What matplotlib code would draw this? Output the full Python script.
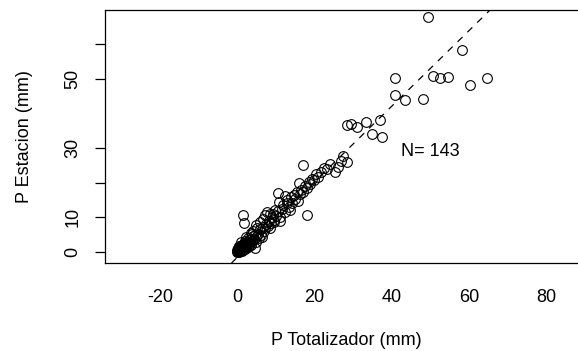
import matplotlib
matplotlib.use("Agg")
import matplotlib.pyplot as plt
from matplotlib.ticker import FixedLocator

plt.rcParams['font.family'] = ['Liberation Sans', 'DejaVu Sans']

# P Totalizador (mm) vs P Estacion (mm)
p_tot = [0.2, 0.5, 0.8, 1.0, 1.2, 0.3, 1.5, 1.8, 2.0, 2.2,
         0.6, 1.1, 1.4, 2.5, 2.8, 3.0, 0.1, 0.4, 0.9, 1.7,
         2.4, 3.2, 3.5, 0.7, 1.3, 1.9, 2.6, 3.8, 4.0, 2.1,
         0.0, 1.6, 2.9, 3.3, 4.3, 4.6, 5.0, 0.5, 1.0, 2.3,
         4.7, 1.6, 1.8, 0.2, 0.6, 1.2, 2.7, 3.6, 0.9, 1.4,
         0.3, 2.0, 3.0, 3.9,
         5.5, 6.0, 6.2, 6.8, 7.0, 7.5, 8.0, 8.2, 8.8, 9.0,
         9.5, 5.2, 5.8, 6.5, 7.2, 7.8, 8.5, 9.3, 9.8, 4.2,
         3.6, 5.0, 5.9, 6.6, 7.3, 8.6, 9.6, 4.8,
         10.0, 10.5, 11.0, 10.6, 11.5, 12.0, 12.3, 12.8, 13.0, 13.5,
         14.0, 14.2, 14.8, 15.0, 15.5, 15.8, 16.2, 16.5, 17.0, 17.5,
         18.0, 18.1, 18.5, 19.0, 19.5, 10.8, 12.5, 11.2, 13.8, 16.0,
         20.0, 20.5, 21.0, 21.8, 22.5, 23.3, 24.0, 25.4, 26.0, 26.8,
         28.5, 17.1, 27.5,
         28.5, 29.5, 31.1, 33.5, 35.0, 37.0, 37.5, 40.9, 40.9, 43.5,
         48.2, 49.4, 50.7, 52.6, 54.6, 58.3, 60.3, 64.7]
p_est = [0.3, 0.4, 0.6, 1.2, 0.8, 0.9, 1.4, 1.5, 2.3, 1.7,
         0.2, 0.5, 2.0, 2.6, 2.2, 3.4, 0.1, 0.0, 1.6, 2.6,
         1.2, 2.8, 3.8, 1.0, 1.1, 2.0, 3.0, 3.3, 4.5, 0.9,
         0.5, 0.7, 3.9, 2.4, 3.7, 5.0, 4.4, 1.8, 2.8, 4.2,
         1.2, 10.6, 8.4, 0.0, 0.7, 1.9, 1.5, 2.0, 0.3, 0.2,
         1.3, 3.1, 1.8, 5.2,
         5.2, 6.5, 5.0, 7.2, 6.1, 8.0, 7.4, 9.0, 8.3, 10.1,
         9.2, 6.8, 3.9, 4.3, 10.8, 11.5, 10.9, 11.0, 12.0, 6.2,
         5.6, 7.8, 8.6, 9.4, 7.0, 6.8, 8.6, 3.0,
         10.5, 11.8, 10.2, 17.0, 12.5, 13.6, 11.4, 14.2, 15.0, 13.0,
         15.8, 14.0, 16.5, 15.3, 17.4, 14.6, 16.8, 18.0, 17.2, 19.0,
         18.5, 10.7, 20.2, 19.5, 21.0, 14.4, 16.2, 9.0, 12.0, 19.8,
         20.8, 22.5, 21.5, 23.0, 24.2, 24.0, 25.5, 23.0, 24.5, 26.2,
         26.0, 25.1, 27.8,
         36.6, 36.8, 36.0, 37.5, 34.0, 38.0, 33.2, 50.2, 45.3, 43.8,
         44.1, 67.8, 50.8, 50.2, 50.4, 58.3, 48.2, 50.2]

# fitted line
intercept = -1.6
slope = 1.09
n_label = "N= 143"

fig = plt.figure(figsize=(5.78, 3.51), dpi=100)
ax = fig.add_axes([105 / 578, 1 - 263 / 351, 482 / 578, 253 / 351])

ax.plot(p_tot, p_est, 'o', mfc='none', mec='black', ms=7.0, mew=0.8)
ax.axline((0, intercept), slope=slope, color='black', lw=0.9,
          linestyle=(0, (5.5, 5.5)))
ax.text(50, 29, n_label, ha='center', va='center', fontsize=13)

ax.set_xlim(-34.2, 90.6)
ax.set_ylim(-3.17, 69.8)

# x: labels everywhere, tick marks only where visible
ax.set_xticks([-20, 0, 20, 40, 60, 80])
ax.set_xticklabels(['-20', '0', '20', '40', '60', '80'])
ax.xaxis.set_minor_locator(FixedLocator([0, 20, 40, 80]))
ax.tick_params(axis='x', which='major', length=0, pad=19, labelsize=13)
ax.tick_params(axis='x', which='minor', length=6.5, width=0.9)

ax.set_yticks([0, 10, 20, 30, 50, 60])
ax.set_yticklabels(['0', '10', '', '30', '50', ''])
ax.tick_params(axis='y', length=7, width=0.9, pad=10, labelsize=13,
               labelrotation=90)
for lab in ax.get_yticklabels():
    lab.set_va('center')

ax.spines['right'].set_visible(False)
for s in ['left', 'top', 'bottom']:
    ax.spines[s].set_linewidth(0.9)

ax.set_xlabel('P Totalizador (mm)', fontsize=13)
ax.xaxis.set_label_coords(0.5, -0.308)
ax.xaxis.label.set_va('center')
ax.set_ylabel('P Estacion (mm)', fontsize=13)
ax.yaxis.set_label_coords(-0.168, 0.5)
ax.yaxis.label.set_va('center')

fig.savefig('out.png', dpi=100)
